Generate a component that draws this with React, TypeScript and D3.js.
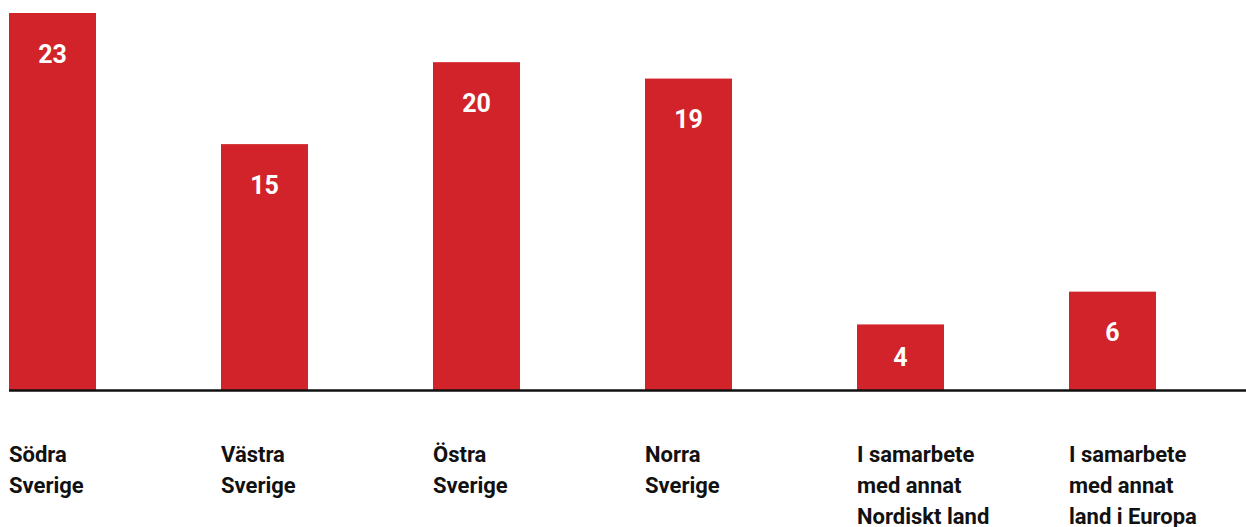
import React from "react";
import * as d3 from "d3";

const categories = [
  ["Södra", "Sverige"],
  ["Västra", "Sverige"],
  ["Östra", "Sverige"],
  ["Norra", "Sverige"],
  ["I samarbete", "med annat", "Nordiskt land"],
  ["I samarbete", "med annat", "land i Europa"],
];
const values = [23, 15, 20, 19, 4, 6];

const RED = "#d2232a";
const FONT = "Roboto, 'Liberation Sans', sans-serif";

const App = () => {
  const width = 1246;
  const height = 527;
  const keys = categories.map((c) => c.join(" "));

  const x = d3
    .scaleBand<string>()
    .domain(keys)
    .range([9, 1156])
    .paddingInner(1 - 87 / 212)
    .paddingOuter(0);

  const y = d3.scaleLinear().domain([0, 23]).range([390, 13]);

  return (
    <svg
      width={width}
      height={height}
      style={{ position: "absolute", left: 0, top: 0, display: "block" }}
    >
      {values.map((v, i) => {
        const bx = x(keys[i]) as number;
        const top = y(v);
        const bottom = y(0);
        // label sits ~41px under the top, or mid-bar if the bar is short
        const ly = Math.min(top + 41, (top + bottom) / 2);
        return (
          <g key={keys[i]}>
            <rect x={bx} y={top} width={x.bandwidth()} height={bottom - top} fill={RED} />
            <text
              x={bx + x.bandwidth() / 2}
              y={ly}
              dy="0.35em"
              textAnchor="middle"
              fill="#fff"
              fontFamily={FONT}
              fontWeight={700}
              fontSize={25}
            >
              {v}
            </text>
          </g>
        );
      })}

      <line x1={9} x2={width} y1={390.5} y2={390.5} stroke="#111" strokeWidth={2.5} />

      {categories.map((lines, i) => (
        <text
          key={keys[i]}
          x={x(keys[i])}
          y={462}
          fill="#111"
          fontFamily={FONT}
          fontWeight={700}
          fontSize={22}
        >
          {lines.map((l, j) => (
            <tspan key={j} x={x(keys[i])} dy={j === 0 ? 0 : 31}>
              {l}
            </tspan>
          ))}
        </text>
      ))}
    </svg>
  );
};

export default App;
